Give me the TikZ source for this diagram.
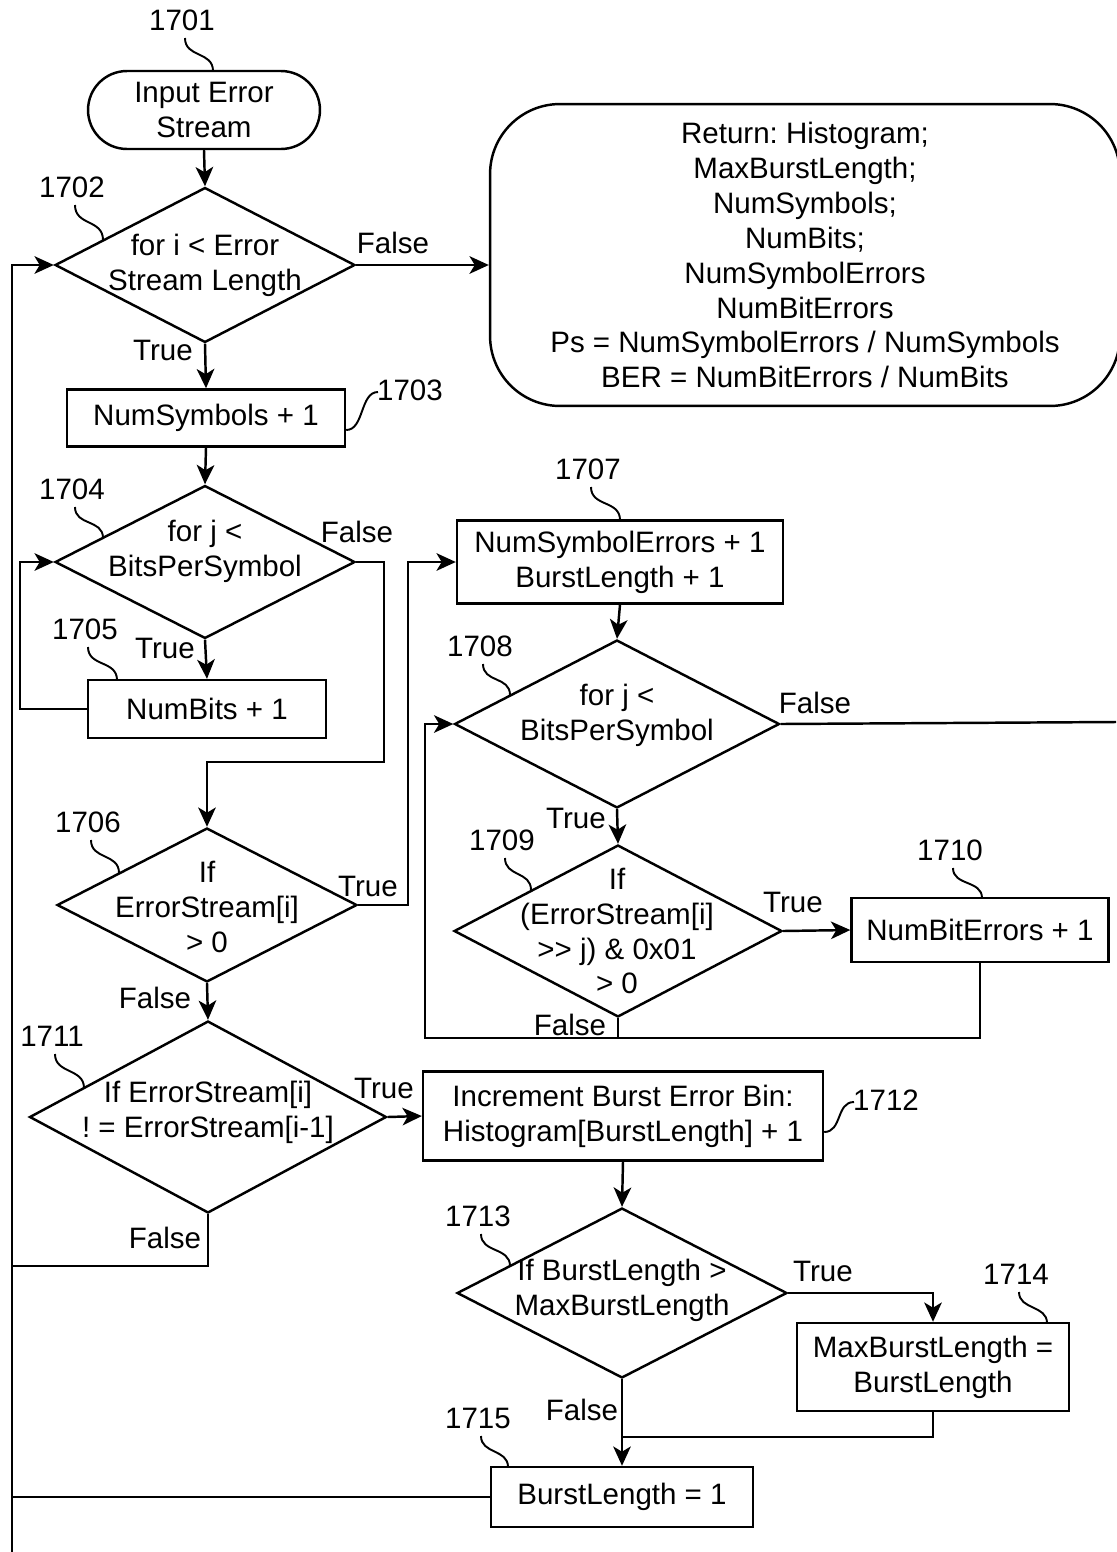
\documentclass[tikz,border=0pt]{standalone}
\usepackage{fontspec}
\setmainfont{Liberation Sans}
\usetikzlibrary{shapes.geometric,arrows.meta}
\frenchspacing
\begin{document}
\begin{tikzpicture}[x=0.02cm,y=-0.02cm,
  every node/.style={font=\fontsize{16.8}{19.9}\selectfont},
  base/.style={draw, line width=1.4pt, inner sep=0pt},
  box/.style={base, rectangle, align=center},
  term/.style={base, rectangle, rounded corners=0.78cm, align=center},
  dia/.style={base, diamond},
  txt/.style={align=center, inner sep=0pt},
  lab/.style={inner sep=0pt},
  wire/.style={line width=1.4pt},
  arr/.style={wire, -{Stealth[length=11pt,width=10pt,inset=3pt]}},
  lead/.style={line width=1.1pt},
]
\useasboundingbox (0,0) rectangle (1116,1552);

% ---------- shapes ----------
\node[term, minimum width=4.64cm, minimum height=1.56cm] (s1701) at (204,110) {Input Error\\Stream};
\node[dia, minimum width=6cm, minimum height=3.1cm] (d1702) at (205,265) {};
\node[txt] (t1702) at (205,265) {for i < Error\\Stream Length};
\node[box, rounded corners=1.4cm, minimum width=12.6cm, minimum height=6.04cm] (ret) at (805,255)
  {Return: Histogram;\\MaxBurstLength;\\NumSymbols;\\NumBits;\\NumSymbolErrors\\NumBitErrors\\
   Ps = NumSymbolErrors / NumSymbols\\BER = NumBitErrors / NumBits};
\node[box, minimum width=5.56cm, minimum height=1.14cm] (b1703) at (206,418) {NumSymbols + 1};
\node[dia, minimum width=6cm, minimum height=3.06cm] (d1704) at (205,562) {};
\node[txt] (t1704) at (205,551) {for j <\\BitsPerSymbol};
\node[box, minimum width=4.76cm, minimum height=1.16cm] (b1705) at (207,709) {NumBits + 1};
\node[dia, minimum width=6cm, minimum height=3.08cm] (d1706) at (207,905) {};
\node[txt] (t1706) at (207,907) {If\\ErrorStream[i]\\> 0};
\node[box, minimum width=6.52cm, minimum height=1.66cm] (b1707) at (620,562) {NumSymbolErrors + 1\\BurstLength + 1};
\node[dia, minimum width=6.5cm, minimum height=3.36cm] (d1708) at (617,724) {};
\node[txt] (t1708) at (617,715) {for j <\\BitsPerSymbol};
\node[dia, minimum width=6.56cm, minimum height=3.44cm] (d1709) at (618,931) {};
\node[txt] (t1709) at (617,931) {If\\(ErrorStream[i]\\>{}> j) \& 0x01\\> 0};
\node[box, minimum width=5.14cm, minimum height=1.28cm] (b1710) at (980,930) {NumBitErrors + 1};
\node[dia, minimum width=7.14cm, minimum height=3.84cm] (d1711) at (208,1117) {};
\node[txt] (t1711) at (208,1112) {If ErrorStream[i]\\! = ErrorStream[i-1]};
\node[box, minimum width=8cm, minimum height=1.78cm] (b1712) at (623,1116) {Increment Burst Error Bin:\\Histogram[BurstLength] + 1};
\node[dia, minimum width=6.6cm, minimum height=3.4cm] (d1713) at (622,1293) {};
\node[txt] (t1713) at (622,1290) {If BurstLength >\\MaxBurstLength};
\node[box, minimum width=5.44cm, minimum height=1.76cm] (b1714) at (933,1367) {MaxBurstLength =\\BurstLength};
\node[box, minimum width=5.24cm, minimum height=1.2cm] (b1715) at (622,1497) {BurstLength = 1};

% ---------- helper points ----------
\coordinate (lbot) at (12,1552);
\coordinate (k1) at (384,762);
\coordinate (k3) at (425,1038);
\coordinate (k5) at (12,1266);
\coordinate (k6) at (622,1437);
\coordinate (offr) at (1116,722);

% ---------- connectors ----------
\draw[arr] (s1701.south) -- (d1702.north);
\draw[arr] (d1702.east) -- (d1702.east -| ret.west);
\draw[arr] (d1702.south) -- (b1703.north);
\draw[arr] (b1703.south) -- (d1704.north);
\draw[arr] (d1704.south) -- (b1705.north);
\draw[arr] (b1705.west) -- ++(-67,0) |- (d1704.west);
\draw[arr] (d1704.east) -| (k1) -| (d1706.north);
\draw[arr] (d1706.east) -- ++(50,0) |- (b1707.west);
\draw[arr] (b1707.south) -- (d1708.north);
\draw[wire] (d1708.east) -- (offr);
\draw[arr] (d1708.south) -- (d1709.north);
\draw[arr] (d1709.east) -- (b1710.west);
\draw[arr] (b1710.south) |- (k3) |- (d1708.west);
\draw[wire] (d1709.south) -- (d1709.south |- k3);
\draw[arr] (d1706.south) -- (d1711.north);
\draw[arr] (d1711.east) -- (b1712.west);
\draw[wire] (d1711.south) |- (k5);
\draw[arr] (b1712.south) -- (d1713.north);
\draw[arr] (d1713.east) -| (b1714.north);
\draw[wire] (b1714.south) |- (k6);
\draw[arr] (d1713.south) -- (b1715.north);
\draw[wire] (b1715.west) -- (b1715.west -| lbot);
\draw[arr] (lbot) |- (d1702.west);

% ---------- branch labels ----------
\node[lab] (f1702) at (393,243) {False};
\node[lab] (r1702) at (163,350) {True};
\node[lab] (f1704) at (357,532) {False};
\node[lab] (r1704) at (165,648) {True};
\node[lab] (r1706) at (368,886) {True};
\node[lab] (f1706) at (155,998) {False};
\node[lab] (f1708) at (815,703) {False};
\node[lab] (r1708) at (576,818) {True};
\node[lab] (r1709) at (793,902) {True};
\node[lab] (f1709) at (570,1025) {False};
\node[lab] (r1711) at (384,1088) {True};
\node[lab] (f1711) at (165,1238) {False};
\node[lab] (r1713) at (823,1271) {True};
\node[lab] (f1713) at (582,1410) {False};

% ---------- reference numerals with leader lines ----------
\node[lab] (n1701) at (182,20) {1701};
\node[lab] (n1702) at (72,187) {1702};
\node[lab] (n1703) at (410,390) {1703};
\node[lab] (n1704) at (72,489) {1704};
\node[lab] (n1705) at (85,629) {1705};
\node[lab] (n1706) at (88,822) {1706};
\node[lab] (n1707) at (588,469) {1707};
\node[lab] (n1708) at (480,646) {1708};
\node[lab] (n1709) at (502,840) {1709};
\node[lab] (n1710) at (950,850) {1710};
\node[lab] (n1711) at (52,1036) {1711};
\node[lab] (n1712) at (886,1100) {1712};
\node[lab] (n1713) at (478,1216) {1713};
\node[lab] (n1714) at (1016,1274) {1714};
\node[lab] (n1715) at (478,1418) {1715};

\draw[lead] ([shift={(3,18)}]n1701.center) .. controls +(0,20) and +(0,-20) .. (213,71);
\draw[lead] ([shift={(3,18)}]n1702.center) .. controls +(0,21) and +(0,-21) .. (103,240);
\draw[lead] (b1703.east |- 0,430) .. controls +(18,0) and +(-18,0) .. ([shift={(-32,2)}]n1703.center);
\draw[lead] ([shift={(3,18)}]n1704.center) .. controls +(0,19) and +(0,-19) .. (103,538);
\draw[lead] ([shift={(3,18)}]n1705.center) .. controls +(0,20) and +(0,-20) .. (117,680);
\draw[lead] ([shift={(3,18)}]n1706.center) .. controls +(0,20) and +(0,-20) .. (119,873);
\draw[lead] ([shift={(3,18)}]n1707.center) .. controls +(0,20) and +(0,-20) .. (620,520);
\draw[lead] ([shift={(3,18)}]n1708.center) .. controls +(0,19) and +(0,-19) .. (510,695);
\draw[lead] ([shift={(3,18)}]n1709.center) .. controls +(0,19) and +(0,-19) .. (531,890);
\draw[lead] ([shift={(3,18)}]n1710.center) .. controls +(0,18) and +(0,-18) .. (982,898);
\draw[lead] ([shift={(3,18)}]n1711.center) .. controls +(0,20) and +(0,-20) .. (84,1088);
\draw[lead] (b1712.east |- 0,1132) .. controls +(18,0) and +(-18,0) .. ([shift={(-32,2)}]n1712.center);
\draw[lead] ([shift={(3,18)}]n1713.center) .. controls +(0,19) and +(0,-19) .. (510,1266);
\draw[lead] ([shift={(3,18)}]n1714.center) .. controls +(0,18) and +(0,-18) .. (1047,1323);
\draw[lead] ([shift={(3,18)}]n1715.center) .. controls +(0,18) and +(0,-18) .. (508,1467);
\end{tikzpicture}
\end{document}
